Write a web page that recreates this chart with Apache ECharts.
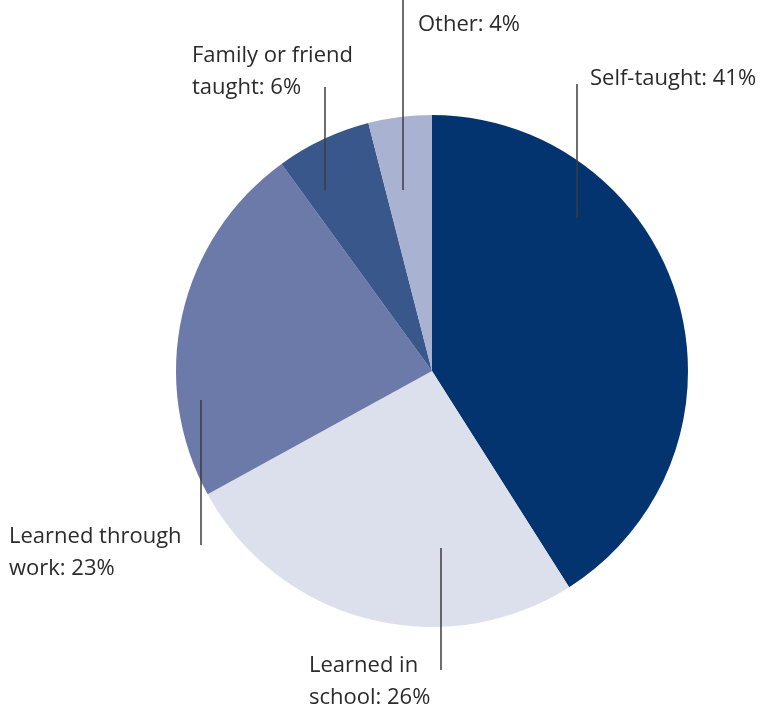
<!DOCTYPE html>
<html>
<head>
<meta charset="utf-8">
<script src="https://cdn.jsdelivr.net/npm/echarts@6/dist/echarts.min.js"></script>
<style>
  html, body { margin: 0; padding: 0; background: #fff; }
  #chart { width: 763px; height: 707px; }
</style>
</head>
<body>
<div id="chart"></div>
<script>
  // data, clockwise from 12 o'clock
  var categories = ['Self-taught', 'Learned in school', 'Learned through work', 'Family or friend taught', 'Other'];
  var labelText = ['Self-taught', 'Learned in\nschool', 'Learned through\nwork', 'Family or friend\ntaught', 'Other'];
  var shares = [41, 26, 23, 6, 4];
  var colors = ['#03346f', '#dcdfec', '#6b7aa9', '#3a578b', '#a9b2d1'];

  // label placement (top-left of text) and leader line [x, yTop, yBottom]
  var labelPos = [[590, 63], [309, 650], [9, 521], [192, 40], [418, 9]];
  var leaders = [[577, 84, 218], [441, 548, 670], [201, 400, 545], [325, 87, 190], [403, 0, 190]];

  var myChart = echarts.init(document.getElementById('chart'));

  myChart.setOption({
    animation: false,
    // leader lines drawn over the slices
    graphic: leaders.map(function (l) {
      return {
        type: 'line',
        z: 100,
        shape: { x1: l[0], y1: l[1], x2: l[0], y2: l[2] },
        style: { stroke: '#3c3c3c', lineWidth: 1.5 }
      };
    }),
    series: [
      {
        type: 'pie',
        center: [432, 371],
        radius: 256,
        startAngle: 90,
        clockwise: true,
        avoidLabelOverlap: false,
        data: categories.map(function (c, i) {
          return { name: c, value: shares[i], itemStyle: { color: colors[i] } };
        }),
        label: {
          show: true,
          formatter: function (p) {
            return labelText[p.dataIndex] + ': ' + p.value + '%';
          },
          fontFamily: 'Open Sans',
          fontSize: 22,
          lineHeight: 32,
          color: '#2b2b2b'
        },
        labelLine: { show: false },
        labelLayout: function (p) {
          var i = p.dataIndex;
          return {
            x: labelPos[i][0],
            y: labelPos[i][1],
            align: 'left',
            verticalAlign: 'top'
          };
        },
        emphasis: { disabled: true }
      }
    ]
  });
</script>
</body>
</html>
